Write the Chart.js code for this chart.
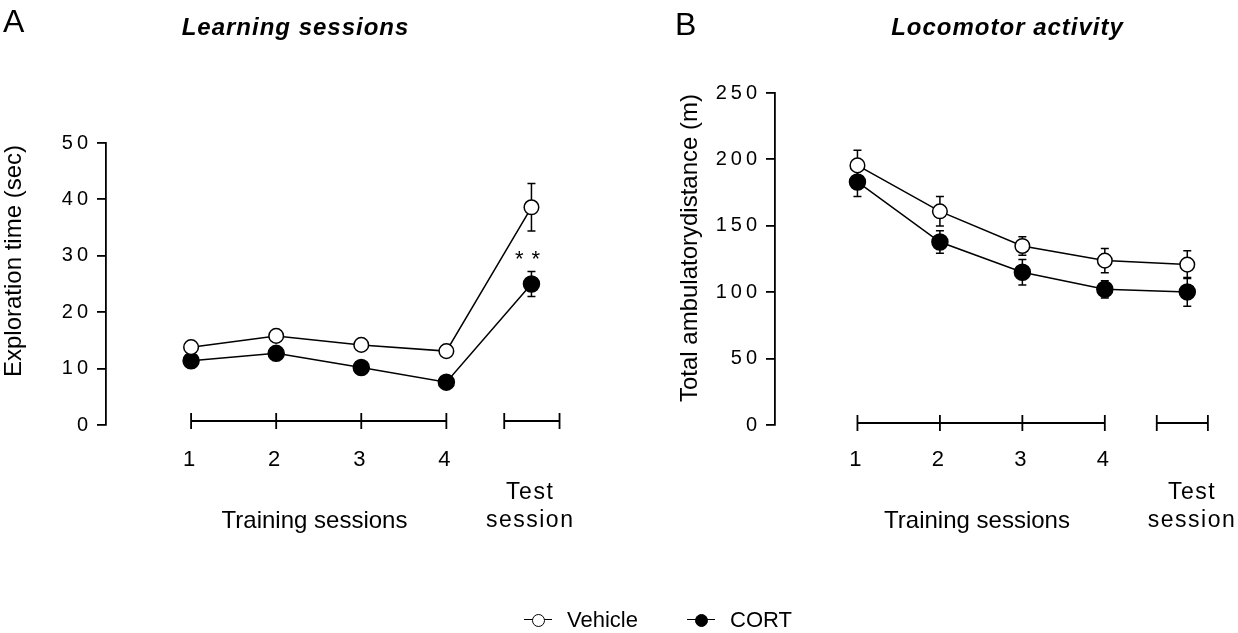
<!DOCTYPE html>
<html>
<head>
<meta charset="utf-8">
<script src="https://cdn.jsdelivr.net/npm/chart.js@4.4.0/dist/chart.umd.min.js"></script>
<style>
  html, body { margin: 0; padding: 0; background: #fff; }
  #wrap { position: relative; width: 1238px; height: 633px; overflow: hidden; }
  #wrap canvas { position: absolute; left: 0; top: 0; }
  .key-line { position: absolute; height: 0; border-top: 1.5px solid #000; }
  .key-dot { position: absolute; width: 13px; height: 13px; box-sizing: border-box; border: 1.5px solid #000; border-radius: 50%; }
  .key-text { position: absolute; font-family: "Liberation Sans", Arial, sans-serif; font-size: 22px; line-height: 24px; color: #000; }
</style>
</head>
<body>
<div id="wrap">
  <canvas id="panelA" width="1238" height="633"></canvas>
  <canvas id="panelB" width="1238" height="633"></canvas>
</div>
<script>
(function () {
  "use strict";

  // x positions: 4 training sessions + test session
  const sessions = [1, 2, 3, 4, 5];
  const trainingSessions = [1, 2, 3, 4];
  const testSession = 5;

  // A: exploration time (sec)
  const explorationTicks = [0, 10, 20, 30, 40, 50];
  const explorationVehicle = [13.8, 15.8, 14.2, 13.1, 38.6];
  const explorationVehicleSem = [0.9, 0.9, 0.9, 0.9, 4.2];
  const explorationCort = [11.4, 12.7, 10.2, 7.6, 25.0];
  const explorationCortSem = [0.9, 0.9, 0.9, 0.9, 2.2];

  // B: total ambulatory distance (m)
  const distanceTicks = [0, 50, 100, 150, 200, 250];
  const distanceVehicle = [195.5, 160.9, 134.8, 123.8, 120.8];
  const distanceVehicleSem = [11.3, 11.1, 7.0, 9.2, 10.5];
  const distanceCort = [183.0, 137.8, 115.0, 102.2, 100.2];
  const distanceCortSem = [11.0, 8.5, 9.6, 6.5, 10.8];

  const groups = ["Vehicle", "CORT"];
  const FONT = '"Liberation Sans", Arial, sans-serif';

  function points(values) {
    return sessions.map(function (x, i) { return { x: x, y: values[i] }; });
  }

  function series(label, values, sem, fill, radius) {
    return {
      label: label,
      data: points(values),
      sem: sem,
      borderColor: "#000",
      borderWidth: 1.5,
      pointRadius: radius,
      pointBackgroundColor: fill,
      pointBorderColor: "#000",
      pointBorderWidth: 1.5,
      tension: 0
    };
  }

  const errorBars = {
    id: "errorBars",
    beforeDatasetDraw: function (chart, args) {
      const ds = chart.data.datasets[args.index];
      if (!ds.sem) return;
      const xs = chart.scales.x, ys = chart.scales.y, ctx = chart.ctx;
      ctx.save();
      ctx.strokeStyle = "#000";
      ctx.lineWidth = 1.5;
      ds.data.forEach(function (pt, i) {
        const px = xs.getPixelForValue(pt.x);
        const top = ys.getPixelForValue(pt.y + ds.sem[i]);
        const bot = ys.getPixelForValue(pt.y - ds.sem[i]);
        ctx.beginPath();
        ctx.moveTo(px, top); ctx.lineTo(px, bot);
        ctx.moveTo(px - 4, top); ctx.lineTo(px + 4, top);
        ctx.moveTo(px - 4, bot); ctx.lineTo(px + 4, bot);
        ctx.stroke();
      });
      ctx.restore();
    }
  };

  // spaced-out y tick numbers like the original figure
  const tickSpacing = {
    id: "tickSpacing",
    beforeDraw: function (chart) { chart.ctx.letterSpacing = "4px"; },
    beforeDatasetsDraw: function (chart) { chart.ctx.letterSpacing = "0px"; }
  };

  function spacedText(ctx, text, x, y, spacing) {
    ctx.letterSpacing = spacing + "px";
    ctx.fillText(text, x + spacing / 2, y);
    ctx.letterSpacing = "0px";
  }

  const sessionAxis = {
    id: "sessionAxis",
    afterDraw: function (chart, args, opts) {
      const ctx = chart.ctx, xs = chart.scales.x, ys = chart.scales.y;
      const area = chart.chartArea;
      const base = area.bottom - opts.lift;
      ctx.save();
      ctx.strokeStyle = "#000";
      ctx.lineWidth = 1.8;
      ctx.beginPath();
      const tx = trainingSessions.map(function (v) { return xs.getPixelForValue(v); });
      ctx.moveTo(tx[0], base); ctx.lineTo(tx[tx.length - 1], base);
      tx.forEach(function (px) { ctx.moveTo(px, base - 8); ctx.lineTo(px, base + 8); });
      const t0 = xs.getPixelForValue(opts.test[0]), t1 = xs.getPixelForValue(opts.test[1]);
      ctx.moveTo(t0, base); ctx.lineTo(t1, base);
      ctx.moveTo(t0, base - 8); ctx.lineTo(t0, base + 8);
      ctx.moveTo(t1, base - 8); ctx.lineTo(t1, base + 8);
      ctx.stroke();

      ctx.fillStyle = "#000";
      ctx.textAlign = "center";
      ctx.textBaseline = "middle";
      ctx.font = "23px " + FONT;
      const testX = xs.getPixelForValue(testSession) + opts.testShift;
      spacedText(ctx, "Test", testX, area.bottom + 68, 1.5);
      spacedText(ctx, "session", testX, area.bottom + 96, 1.5);
      ctx.font = "24px " + FONT;
      ctx.fillText("Training sessions", xs.getPixelForValue(2.45), area.bottom + 96);

      // y axis title
      ctx.save();
      ctx.translate(opts.yTitle.x, opts.yTitle.y);
      ctx.rotate(-Math.PI / 2);
      ctx.fillText(opts.yTitle.text, 0, 0);
      ctx.restore();

      // panel letter and heading
      ctx.textAlign = "left";
      ctx.textBaseline = "alphabetic";
      ctx.font = "32px " + FONT;
      ctx.fillText(opts.letter.text, opts.letter.x, opts.letter.y);
      ctx.textAlign = "center";
      ctx.font = "italic bold 24px " + FONT;
      spacedText(ctx, opts.heading.text, opts.heading.x, opts.heading.y, 1);

      if (opts.star) {
        const ds = chart.data.datasets[opts.star.dataset];
        const i = opts.star.index;
        const top = ys.getPixelForValue(ds.data[i].y + ds.sem[i]);
        ctx.font = "22px " + FONT;
        spacedText(ctx, "**", xs.getPixelForValue(ds.data[i].x) - 4, top - 6, 8);
      }
      ctx.restore();
    }
  };

  function makePanel(id, cfg) {
    return new Chart(document.getElementById(id), {
      type: "line",
      data: {
        datasets: [
          series(groups[0], cfg.vehicle, cfg.vehicleSem, "#ffffff", 7.3),
          series(groups[1], cfg.cort, cfg.cortSem, "#000000", 8)
        ]
      },
      options: {
        responsive: false,
        animation: false,
        events: [],
        layout: { padding: cfg.padding },
        plugins: {
          legend: { display: false },
          tooltip: { enabled: false },
          sessionAxis: cfg.axis
        },
        scales: {
          x: {
            type: "linear",
            min: 0,
            max: 5.5,
            grid: { display: false },
            border: { display: false },
            afterFit: function (scale) { scale.height = 60; },
            afterBuildTicks: function (scale) {
              scale.ticks = trainingSessions.map(function (v) { return { value: v }; });
            },
            ticks: {
              autoSkip: false,
              maxRotation: 0,
              padding: 14,
              color: "#000",
              font: { family: FONT, size: 22 }
            }
          },
          y: {
            min: cfg.yTicks[0],
            max: cfg.yTicks[cfg.yTicks.length - 1],
            afterFit: function (scale) { scale.width = cfg.yWidth; },
            afterBuildTicks: function (scale) {
              scale.ticks = cfg.yTicks.map(function (v) { return { value: v }; });
            },
            grid: {
              display: true,
              drawOnChartArea: false,
              drawTicks: true,
              tickLength: 9,
              color: "#000",
              lineWidth: 1.8
            },
            border: { display: true, color: "#000", width: 1.8 },
            ticks: {
              padding: 5,
              color: "#000",
              font: { family: FONT, size: 20 }
            }
          }
        }
      },
      plugins: [tickSpacing, errorBars, sessionAxis]
    });
  }

  makePanel("panelA", {
    vehicle: explorationVehicle, vehicleSem: explorationVehicleSem,
    cort: explorationCort, cortSem: explorationCortSem,
    yTicks: explorationTicks,
    yWidth: 106,
    padding: { left: 0, top: 143, right: 664, bottom: 148 },
    axis: {
      lift: 4,
      test: [4.68, 5.33],
      testShift: -2,
      yTitle: { text: "Exploration time (sec)", x: 14, y: 261 },
      letter: { text: "A", x: 3, y: 32 },
      heading: { text: "Learning sessions", x: 295, y: 35 },
      star: { dataset: 1, index: 4 }
    }
  });

  makePanel("panelB", {
    vehicle: distanceVehicle, vehicleSem: distanceVehicleSem,
    cort: distanceCort, cortSem: distanceCortSem,
    yTicks: distanceTicks,
    yWidth: 100,
    padding: { left: 675, top: 93, right: 5, bottom: 148 },
    axis: {
      lift: 2,
      test: [4.63, 5.25],
      testShift: 4,
      yTitle: { text: "Total ambulatorydistance (m)", x: 690, y: 248 },
      letter: { text: "B", x: 675, y: 35 },
      heading: { text: "Locomotor activity", x: 1007, y: 35 },
      star: null
    }
  });

  // legend
  const wrap = document.getElementById("wrap");
  const keyX = [524, 687];
  const keyFill = ["#ffffff", "#000000"];
  groups.forEach(function (name, i) {
    const line = document.createElement("div");
    line.className = "key-line";
    line.style.left = keyX[i] + "px";
    line.style.top = "619px";
    line.style.width = "28px";
    wrap.appendChild(line);
    const dot = document.createElement("div");
    dot.className = "key-dot";
    dot.style.left = (keyX[i] + 7.5) + "px";
    dot.style.top = "613.5px";
    dot.style.background = keyFill[i];
    wrap.appendChild(dot);
    const label = document.createElement("div");
    label.className = "key-text";
    label.style.left = (keyX[i] + 43) + "px";
    label.style.top = "608px";
    label.textContent = name;
    wrap.appendChild(label);
  });
})();
</script>
</body>
</html>
